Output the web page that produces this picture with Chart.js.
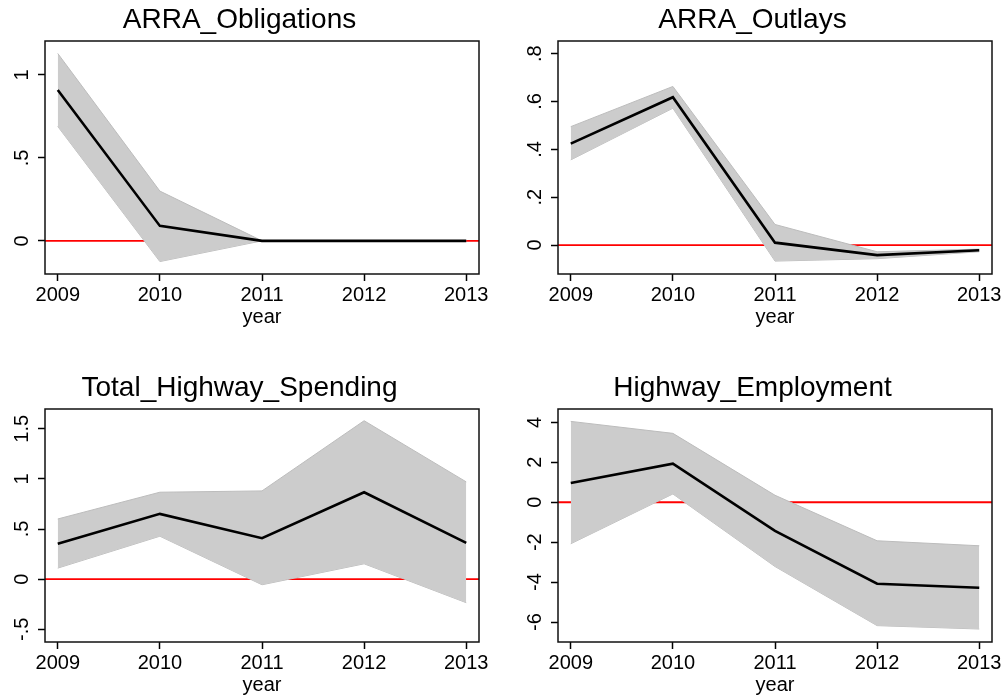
<!DOCTYPE html>
<html>
<head>
<meta charset="utf-8">
<script src="https://cdn.jsdelivr.net/npm/chart.js@4.4.1/dist/chart.umd.min.js"></script>
<style>
  body { margin: 0; width: 1005px; height: 696px; overflow: hidden; background: #fff; position: relative; }
  .panel { position: absolute; }
</style>
</head>
<body>
<div class="panel" style="left:0px;top:0px"><canvas id="c1" width="524" height="340"></canvas></div>
<div class="panel" style="left:513px;top:0px"><canvas id="c2" width="524" height="340"></canvas></div>
<div class="panel" style="left:0px;top:368px"><canvas id="c3" width="524" height="340"></canvas></div>
<div class="panel" style="left:513px;top:368px"><canvas id="c4" width="524" height="340"></canvas></div>
<script>
// years on the x axis
var years = [2009, 2010, 2011, 2012, 2013];

// ARRA_Obligations
var obligMean  = [0.91, 0.09, 0.0, 0.0, 0.0];
var obligUpper = [1.13, 0.30, 0.0, 0.0, 0.0];
var obligLower = [0.69, -0.125, 0.0, 0.0, 0.0];
var obligTicks = [0, 0.5, 1];
var obligLabels = ['0', '.5', '1'];
var obligRange = [-0.2, 1.205];

// ARRA_Outlays
var outlayMean  = [0.424, 0.618, 0.01, -0.042, -0.022];
var outlayUpper = [0.495, 0.663, 0.086, -0.028, -0.017];
var outlayLower = [0.356, 0.572, -0.067, -0.057, -0.028];
var outlayTicks = [0, 0.2, 0.4, 0.6, 0.8];
var outlayLabels = ['0', '.2', '.4', '.6', '.8'];
var outlayRange = [-0.121, 0.853];

// Total_Highway_Spending
var spendMean  = [0.352, 0.651, 0.408, 0.867, 0.362];
var spendUpper = [0.60, 0.867, 0.88, 1.58, 0.97];
var spendLower = [0.11, 0.428, -0.056, 0.153, -0.235];
var spendTicks = [-0.5, 0, 0.5, 1, 1.5];
var spendLabels = ['-.5', '0', '.5', '1', '1.5'];
var spendRange = [-0.627, 1.697];

// Highway_Employment
var emplMean  = [0.965, 1.93, -1.43, -4.08, -4.28];
var emplUpper = [4.05, 3.45, 0.35, -1.93, -2.18];
var emplLower = [-2.08, 0.415, -3.22, -6.18, -6.35];
var emplTicks = [-6, -4, -2, 0, 2, 4];
var emplLabels = ['-6', '-4', '-2', '0', '2', '4'];
var emplRange = [-7.0, 4.67];

var FONT = "'Liberation Sans', Arial, sans-serif";

function pts(vals) {
  var out = [];
  for (var i = 0; i < years.length; i++) out.push({x: years[i], y: vals[i]});
  return out;
}

// zero line under the band, frame and rotated y labels on top
var stataPlugin = {
  id: 'stata',
  beforeDatasetsDraw: function(chart) {
    var ctx = chart.ctx, a = chart.chartArea;
    var y0 = chart.scales.y.getPixelForValue(0);
    ctx.save();
    ctx.strokeStyle = '#ff0000';
    ctx.lineWidth = 1.8;
    ctx.beginPath();
    ctx.moveTo(a.left, y0);
    ctx.lineTo(a.right, y0);
    ctx.stroke();
    ctx.restore();
  },
  afterDraw: function(chart, args, opts) {
    var ctx = chart.ctx, a = chart.chartArea, ys = chart.scales.y;
    ctx.save();
    ctx.strokeStyle = '#111';
    ctx.lineWidth = 1.5;
    ctx.strokeRect(a.left, a.top, a.right - a.left, a.bottom - a.top);
    ctx.fillStyle = '#000';
    ctx.font = '20px ' + FONT;
    ctx.textAlign = 'center';
    ctx.textBaseline = 'alphabetic';
    for (var i = 0; i < opts.ticks.length; i++) {
      var py = ys.getPixelForValue(opts.ticks[i]);
      ctx.save();
      ctx.translate(a.left - 17, py);
      ctx.rotate(-Math.PI / 2);
      ctx.fillText(opts.labels[i], 0, 0);
      ctx.restore();
    }
    ctx.restore();
  }
};

function makeChart(id, title, mean, upper, lower, ticks, labels, range) {
  var ctx = document.getElementById(id).getContext('2d');
  return new Chart(ctx, {
    type: 'line',
    data: {
      datasets: [
        { data: pts(mean), borderColor: '#000', borderWidth: 2.6, pointRadius: 0, fill: false },
        { data: pts(upper), borderColor: '#bcbcbc', borderWidth: 1, pointRadius: 0,
          backgroundColor: '#cccccc', fill: '+1' },
        { data: pts(lower), borderColor: '#bcbcbc', borderWidth: 1, pointRadius: 0, fill: false }
      ]
    },
    options: {
      responsive: false,
      animation: false,
      layout: { padding: { left: 0, right: 45, top: 0, bottom: 0 } },
      plugins: {
        legend: { display: false },
        tooltip: { enabled: false },
        title: {
          display: true, text: title, color: '#000',
          font: { family: FONT, size: 28, weight: 'normal' },
          padding: { top: 3.2, bottom: 4.2 }
        },
        stata: { ticks: ticks, labels: labels }
      },
      scales: {
        x: {
          type: 'linear', min: 2008.875, max: 2013.125,
          afterBuildTicks: function(s) { s.ticks = years.map(function(v) { return {value: v}; }); },
          afterFit: function(s) { s.height = 66; },
          grid: { drawOnChartArea: false, drawTicks: true, tickLength: 7, tickWidth: 1.5, tickColor: '#000' },
          border: { display: false },
          ticks: { color: '#000', padding: 2.5, maxRotation: 0, autoSkip: false,
                   font: { family: FONT, size: 20 },
                   callback: function(v) { return String(v); } },
          title: { display: true, text: 'year', color: '#000',
                   font: { family: FONT, size: 20 }, padding: { top: 0, bottom: 11 } }
        },
        y: {
          min: range[0], max: range[1],
          afterBuildTicks: function(s) { s.ticks = ticks.map(function(v) { return {value: v}; }); },
          afterFit: function(s) { s.width = 45; },
          grid: { drawOnChartArea: false, drawTicks: true, tickLength: 7, tickWidth: 1.5, tickColor: '#000' },
          border: { display: false },
          ticks: { display: false }
        }
      }
    },
    plugins: [stataPlugin]
  });
}

makeChart('c1', 'ARRA_Obligations', obligMean, obligUpper, obligLower, obligTicks, obligLabels, obligRange);
makeChart('c2', 'ARRA_Outlays', outlayMean, outlayUpper, outlayLower, outlayTicks, outlayLabels, outlayRange);
makeChart('c3', 'Total_Highway_Spending', spendMean, spendUpper, spendLower, spendTicks, spendLabels, spendRange);
makeChart('c4', 'Highway_Employment', emplMean, emplUpper, emplLower, emplTicks, emplLabels, emplRange);
</script>
</body>
</html>
